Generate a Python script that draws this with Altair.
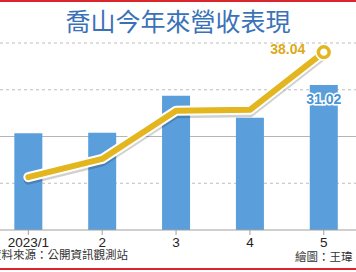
import altair as alt
import pandas as pd

# ---- data ----
months = [1, 2, 3, 4, 5]
month_labels = ["2023/1", "2", "3", "4", "5"]
revenue = [20.7, 20.8, 28.7, 24.0, 31.02]      # bars (億元)
line_vals = [11.3, 15.2, 25.5, 25.7, 38.04]     # line
dashed_grid = [10, 30, 40]
solid_grid = [20]
baseline = [0]

title_text = "喬山今年來營收表現"
source_text = "資料來源：公開資訊觀測站"
credit_text = "繪圖：王瑋"

W, H = 356, 272
xscale = alt.Scale(domain=[0.6842, 5.3684], nice=False, zero=False)
yscale = alt.Scale(domain=[-8.984, 49.2], nice=False, zero=False)

df = pd.DataFrame({"m": months, "label": month_labels, "rev": revenue, "line": line_vals})
last = df.tail(1)
one = pd.DataFrame({"a": [0]})

X = alt.X("m:Q", scale=xscale, axis=None)

grid_d = alt.Chart(pd.DataFrame({"v": dashed_grid})).mark_rule(
    color="#bdbdbd", strokeWidth=1, strokeDash=[3, 3]
).encode(x=alt.value(0), x2=alt.value(W), y=alt.Y("v:Q", scale=yscale, axis=None))

grid_s = alt.Chart(pd.DataFrame({"v": solid_grid})).mark_rule(
    color="#b5b5b5", strokeWidth=1
).encode(x=alt.value(0), x2=alt.value(W), y=alt.Y("v:Q", scale=yscale, axis=None))

bars = alt.Chart(df).mark_bar(color="#5a9fdc", width=28).encode(
    x=X, y=alt.Y("rev:Q", scale=yscale, axis=None), y2=alt.datum(0)
)

base_rule = alt.Chart(pd.DataFrame({"v": baseline})).mark_rule(
    color="#a0a0a0", strokeWidth=1
).encode(x=alt.value(0), x2=alt.value(W), y=alt.Y("v:Q", scale=yscale, axis=None))

ticks = alt.Chart(df).mark_rule(color="#a0a0a0", strokeWidth=1).encode(
    x=X, y=alt.value(230), y2=alt.value(235)
)

tick_labels = alt.Chart(df).mark_text(
    font="Liberation Sans", fontSize=13.5, color="#222222", baseline="middle"
).encode(x=X, y=alt.value(243), text="label:N")

Yl = alt.Y("line:Q", scale=yscale, axis=None)
line_shadow = alt.Chart(df).mark_line(
    color="#000000", opacity=0.18, strokeWidth=9, yOffset=3, strokeCap="round", strokeJoin="round"
).encode(x=X, y=Yl)
line_white = alt.Chart(df).mark_line(
    color="#ffffff", strokeWidth=10, strokeCap="round", strokeJoin="round"
).encode(x=X, y=Yl)
line_gold = alt.Chart(df).mark_line(
    color="#e3b51e", strokeWidth=6, strokeCap="round", strokeJoin="round"
).encode(x=X, y=Yl)

pt_halo = alt.Chart(last).mark_point(
    shape="circle", filled=True, color="#ffffff", size=300, opacity=1
).encode(x=X, y=Yl)
pt = alt.Chart(last).mark_point(
    shape="circle", filled=True, fill="#ffffff", stroke="#e3b51e", strokeWidth=3.5, size=115, opacity=1
).encode(x=X, y=Yl)

line_label = alt.Chart(last).mark_text(
    font="Liberation Sans", fontSize=14, fontWeight="bold", color="#dcaa18",
    dx=-36, dy=-2, baseline="middle"
).encode(x=X, y=Yl, text=alt.Text("line:Q", format=".2f"))

bar_label_halo = alt.Chart(last).mark_text(
    font="Liberation Sans", fontSize=14, fontWeight="bold", color="#ffffff",
    stroke="#ffffff", strokeWidth=3, dy=15, baseline="middle"
).encode(x=X, y=alt.Y("rev:Q", scale=yscale, axis=None), text=alt.Text("rev:Q", format=".2f"))
bar_label = alt.Chart(last).mark_text(
    font="Liberation Sans", fontSize=14, fontWeight="bold", color="#4a93d6",
    dy=15, baseline="middle"
).encode(x=X, y=alt.Y("rev:Q", scale=yscale, axis=None), text=alt.Text("rev:Q", format=".2f"))

title = alt.Chart(one).mark_text(
    font="Noto Sans CJK TC", fontSize=25, color="#3a72b8", baseline="middle", align="center"
).encode(x=alt.value(178), y=alt.value(22.5), text=alt.value(title_text))

source = alt.Chart(one).mark_text(
    font="Noto Sans CJK TC", fontSize=11.5, color="#333333", baseline="middle", align="right"
).encode(x=alt.value(128), y=alt.value(255.5), text=alt.value(source_text))

credit = alt.Chart(one).mark_text(
    font="Noto Sans CJK TC", fontSize=11.5, color="#333333", baseline="middle", align="left"
).encode(x=alt.value(295), y=alt.value(258), text=alt.value(credit_text))

red_top = alt.Chart(one).mark_rule(color="#d8262c", strokeWidth=2).encode(
    x=alt.value(0), x2=alt.value(W), y=alt.value(1)
)
red_bot = alt.Chart(one).mark_rule(color="#d8262c", strokeWidth=2).encode(
    x=alt.value(0), x2=alt.value(W), y=alt.value(269)
)

chart = alt.layer(
    grid_d, grid_s, bars, base_rule, ticks, tick_labels,
    line_shadow, line_white, line_gold, pt_halo, pt,
    line_label, bar_label_halo, bar_label,
    title, source, credit, red_top, red_bot
).properties(
    width=W, height=H,
    autosize=alt.AutoSizeParams(type="none"),
    padding=0,
    background="#ffffff",
).configure_view(stroke=None)

chart.save("out.html", embed_options={"renderer": "svg", "actions": False})
